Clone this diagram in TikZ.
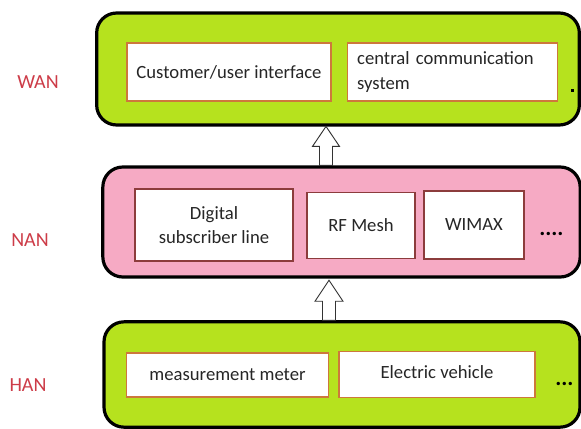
\documentclass[tikz,border=0pt]{standalone}
\usepackage{fontspec}
\setmainfont{Carlito}
\definecolor{lime}{RGB}{182,226,30}
\definecolor{pinkfill}{RGB}{246,170,196}
\definecolor{labred}{RGB}{205,60,72}
\definecolor{orangeb}{RGB}{205,120,60}
\definecolor{darkb}{RGB}{140,60,60}
\tikzset{
  layer/.style={draw=black, line width=2.4pt, rounded corners=15pt, inner sep=0pt},
  item/.style={draw=orangeb, line width=0.8pt, fill=white, inner sep=0pt, font=\fontsize{14}{18.5}\selectfont, text=black!85},
  nitem/.style={item, draw=darkb},
  lab/.style={text=labred, font=\fontsize{15}{18}\selectfont},
  blockarrow/.style={draw=black!80, fill=white, line width=0.7pt, line join=miter},
  dots/.style={font=\fontsize{17}{18}\selectfont\bfseries, text=black, inner sep=0pt}
}
\begin{document}
\begin{tikzpicture}[x=0.75pt,y=-0.75pt]
\useasboundingbox (0,0) rectangle (581,428);
\clip (0,0) rectangle (581,428);
\fill[white] (0,0) rectangle (581,428);
% layers
\node[layer, fill=lime, minimum width=362pt, minimum height=84pt] (wan) at (338,69) {};
\node[layer, fill=pinkfill, minimum width=358pt, minimum height=82.5pt] (nan) at (341.5,222) {};
\node[layer, fill=lime, minimum width=357pt, minimum height=79pt] (han) at (342,374.5) {};
% WAN items
\node[item, minimum width=153pt, minimum height=43.5pt] (cust) at (229,72) {Customer/user interface};
\node[item, minimum width=158pt, minimum height=43.5pt, align=left, text width=143pt] (ccs) at (452.5,72) {central communication\\system};
\fill (570.5,88.5) rectangle (573.5,91.5);
% NAN items
\node[nitem, minimum width=118.5pt, minimum height=54pt, align=center] (dsl) at (214,225) {Digital\\subscriber line};
\node[nitem, minimum width=81pt, minimum height=50pt] (rf) at (361,225.5) {RF Mesh};
\node[nitem, minimum width=75pt, minimum height=51pt] (wimax) at (474,225) {WIMAX};
\node[dots, anchor=west] (ndots) at (539,234) {....};
% HAN items
\node[item, minimum width=151pt, minimum height=33pt] (meas) at (227.5,375) {measurement meter};
\node[item, minimum width=147pt, minimum height=34pt, text depth=4pt] (ev) at (437,374.5) {Electric vehicle};
\node[dots, anchor=west] (hdots) at (555,384) {...};
% arrows
\coordinate (a1) at (nan.north -| 326,0);
\draw[blockarrow] (a1) ++(-6.5,0) -- ++(0,-19) -- ++(-7,0) -- ++(13.5,-20) -- ++(13.5,20) -- ++(-7,0) -- ++(0,19) -- cycle;
\coordinate (a2) at (han.north -| 329,0);
\draw[blockarrow] (a2) ++(-6.5,0) -- ++(0,-19) -- ++(-7.5,0) -- ++(14,-21) -- ++(14,21) -- ++(-7.5,0) -- ++(0,19) -- cycle;
% labels
\node[lab] (lw) at (38,82) {WAN};
\node[lab] (ln) at (30,240) {NAN};
\node[lab] (lh) at (28,385) {HAN};
\end{tikzpicture}
\end{document}
